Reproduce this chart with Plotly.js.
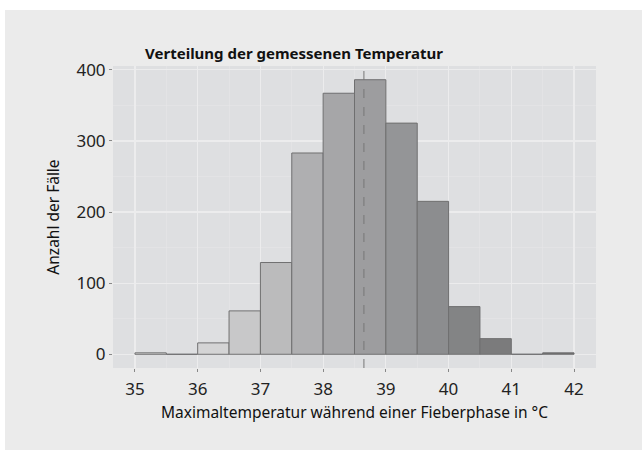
<!DOCTYPE html>
<html><head><meta charset="utf-8">
<script src="https://cdn.plot.ly/plotly-3.0.1.min.js"></script>
<style>html,body{margin:0;padding:0;background:#fff}</style>
</head><body>
<div id="chart" style="width:642px;height:450px"></div>
<script>
const binCenters = [35.25,35.75,36.25,36.75,37.25,37.75,38.25,38.75,39.25,39.75,40.25,40.75,41.25,41.75];
const counts = [2,0,16,61,129,283,367,386,325,215,67,22,0,2];
const barColors = ['#dcdcdd','#d8d8d9','#d4d4d5','#c8c8c9','#bbbbbc','#afafb1','#a6a6a8','#9d9d9f','#949597','#8c8d8f','#838485','#7b7b7c','#747475','#6e6e6f'];
const meanTemp = 38.65;
const xTicks = [35,36,37,38,39,40,41,42];
const yTicks = [0,100,200,300,400];
const titleText = 'Verteilung der gemessenen Temperatur';
const xTitle = 'Maximaltemperatur während einer Fieberphase in °C';
const yTitle = 'Anzahl der Fälle';

const font = 'Noto Sans, sans-serif';
const data = [{
  type:'bar', x:binCenters, y:counts, width:0.5,
  marker:{color:barColors, line:{color:'#6f6f70', width:1}},
  hoverinfo:'none'
}];
const layout = {
  width:642, height:450,
  margin:{l:113, r:46, t:66, b:82},
  paper_bgcolor:'#ebebeb', plot_bgcolor:'#dedfe1',
  showlegend:false, bargap:0,
  title:{text:'<b>'+titleText+'</b>', font:{family:font, size:15, color:'#111'}, x:(294-113)/483, xref:'paper', xanchor:'center', y:1, yref:'paper', yanchor:'bottom', pad:{b:7}},
  xaxis:{range:[34.65,42.35], tickvals:xTicks, ticktext:xTicks.map(String), showgrid:true, gridcolor:'#ececed', gridwidth:1.2,
    minor:{dtick:0.5, tick0:35, showgrid:true, gridcolor:'#e6e6e7', gridwidth:0.6},
    ticks:'outside', ticklen:3, tickcolor:'#888', zeroline:false, showline:false, ticklabelstandoff:3,
    tickfont:{family:font, size:17, color:'#222'},
    title:{text:xTitle, font:{family:font, size:15.5, color:'#111'}, standoff:7}},
  yaxis:{range:[-19.3,405.3], tickvals:yTicks, showgrid:true, gridcolor:'#ececed', gridwidth:1.2,
    minor:{dtick:50, showgrid:true, gridcolor:'#e6e6e7', gridwidth:0.6},
    ticks:'outside', ticklen:3, tickcolor:'#888', zeroline:false, showline:false,
    tickfont:{family:font, size:17, color:'#222'},
    title:{text:yTitle, font:{family:font, size:15.5, color:'#111'}, standoff:12}},
  shapes:[
    {type:'line', xref:'x', yref:'paper', x0:meanTemp, x1:meanTemp, y0:0, y1:1, line:{color:'#777', width:1, dash:'dash'}},
    {type:'rect', xref:'paper', yref:'paper', x0:-0.3, x1:1.2, y0:(368-10)/302, y1:1.3, fillcolor:'#fff', line:{width:0}},
    {type:'rect', xref:'paper', yref:'paper', x0:-0.3, x1:(5-113)/483, y0:-0.4, y1:1.3, fillcolor:'#fff', line:{width:0}}
  ]
};
Plotly.newPlot('chart', data, layout, {displayModeBar:false, staticPlot:true});
</script>
</body></html>
